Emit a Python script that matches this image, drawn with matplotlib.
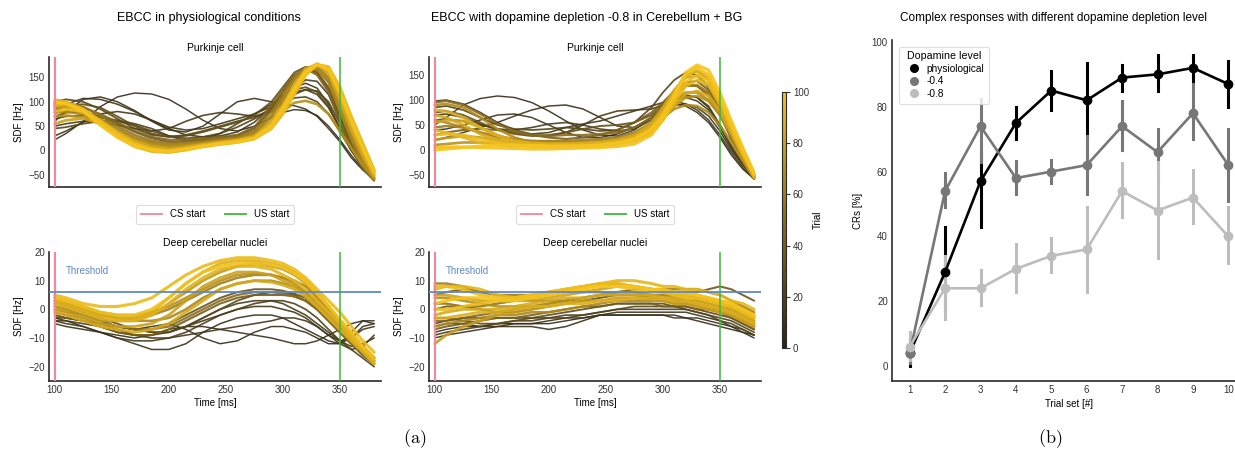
import matplotlib
matplotlib.use("Agg")
import matplotlib.pyplot as plt
from matplotlib.colors import LinearSegmentedColormap, Normalize
from matplotlib.cm import ScalarMappable
from matplotlib.lines import Line2D

plt.rcParams['font.family'] = ['Liberation Sans', 'DejaVu Sans']
plt.rcParams['mathtext.fontset'] = 'cm'

# time grid (ms) shared by all spike density traces
time_ms = [100, 110, 125, 140, 155, 170, 185, 200, 215, 230, 245, 260,
           275, 290, 300, 310, 320, 330, 340, 350, 360, 370, 380]

# Purkinje cell, physiological: trial index and SDF [Hz]
pc_phys_trials = [2, 6, 10, 12, 14, 18, 22, 25, 28, 35, 45, 55, 60, 65, 70, 78, 80,
                  84, 88, 90, 95, 97, 100]
pc_phys_sdf = [
    [22, 35, 60, 90, 110, 118, 116, 105, 85, 62, 45, 40, 50, 68, 78, 84, 82, 72, 50, 22, -10, -38, -55],
    [60, 80, 105, 110, 100, 82, 60, 42, 38, 50, 75, 100, 107, 100, 95, 92, 85, 70, 45, 18, -15, -40, -58],
    [75, 95, 107, 105, 95, 80, 62, 45, 32, 28, 30, 38, 58, 90, 112, 130, 138, 128, 95, 45, 0, -32, -55],
    [30, 40, 58, 75, 80, 75, 62, 48, 42, 45, 55, 65, 75, 90, 105, 120, 125, 115, 88, 45, 2, -32, -55],
    [50, 55, 60, 58, 52, 45, 40, 45, 60, 72, 78, 75, 70, 80, 95, 108, 110, 100, 75, 38, 0, -30, -52],
    [65, 70, 72, 68, 62, 55, 45, 30, 20, 22, 35, 55, 75, 95, 112, 130, 145, 142, 115, 60, 10, -28, -52],
    [45, 48, 55, 60, 60, 52, 40, 30, 25, 28, 35, 48, 65, 85, 100, 115, 125, 122, 100, 55, 8, -30, -55],
    [100, 105, 100, 85, 65, 45, 32, 28, 32, 40, 50, 60, 68, 85, 105, 125, 130, 120, 90, 45, 0, -35, -57],
    [85, 92, 95, 88, 70, 50, 35, 28, 30, 38, 48, 58, 72, 100, 130, 160, 172, 160, 125, 70, 15, -30, -58],
    [70, 78, 80, 70, 55, 38, 25, 18, 18, 22, 26, 30, 45, 85, 120, 152, 168, 160, 130, 70, 12, -35, -60],
    [88, 92, 88, 75, 58, 40, 28, 22, 22, 25, 28, 32, 48, 92, 125, 155, 168, 155, 120, 60, 5, -38, -62],
    [95, 98, 90, 72, 50, 32, 20, 15, 17, 20, 24, 28, 40, 80, 115, 150, 170, 165, 140, 80, 20, -30, -60],
    [85, 88, 82, 65, 45, 27, 16, 11, 13, 17, 21, 26, 36, 72, 108, 145, 170, 172, 150, 92, 32, -22, -58],
    [78, 80, 74, 58, 40, 24, 14, 10, 12, 15, 19, 24, 34, 68, 105, 145, 170, 170, 145, 85, 28, -20, -58],
    [70, 72, 68, 55, 38, 22, 12, 8, 10, 14, 18, 22, 30, 55, 80, 98, 102, 95, 75, 40, 5, -30, -58],
    [90, 88, 78, 58, 38, 20, 8, 4, 8, 13, 18, 22, 30, 60, 95, 135, 168, 176, 158, 100, 40, -12, -55],
    [55, 62, 66, 55, 38, 20, 8, 2, 4, 10, 15, 19, 26, 50, 85, 125, 160, 175, 166, 120, 60, 5, -45],
    [92, 94, 84, 62, 38, 18, 6, 2, 6, 12, 17, 21, 29, 57, 92, 132, 166, 177, 162, 108, 48, -6, -52],
    [104, 100, 85, 60, 33, 12, 3, 0, 5, 11, 16, 20, 28, 55, 90, 130, 165, 178, 165, 115, 55, 0, -50],
    [96, 95, 82, 55, 28, 8, -2, -4, 1, 8, 13, 17, 24, 45, 75, 115, 155, 176, 172, 130, 70, 15, -40],
    [80, 85, 80, 60, 35, 14, 3, -1, 3, 9, 14, 18, 25, 48, 80, 120, 158, 176, 170, 125, 65, 10, -42],
    [98, 96, 84, 58, 30, 10, 0, -3, 2, 8, 13, 17, 24, 47, 80, 120, 158, 177, 170, 124, 64, 8, -43],
    [100, 97, 80, 52, 27, 9, 1, -2, 3, 9, 14, 18, 25, 52, 88, 128, 162, 177, 166, 118, 60, 5, -45],
]

# Purkinje cell, dopamine depletion -0.8
pc_dep_trials = [3, 6, 8, 12, 15, 16, 22, 30, 40, 50, 58, 65, 68, 72, 75, 82, 85,
                 88, 92, 95, 98, 100]
pc_dep_sdf = [
    [50, 65, 90, 103, 108, 105, 95, 78, 58, 40, 30, 28, 40, 65, 80, 90, 92, 85, 68, 38, 0, -30, -55],
    [40, 42, 50, 60, 70, 72, 65, 50, 35, 25, 25, 32, 45, 65, 80, 92, 88, 75, 55, 25, -10, -38, -58],
    [20, 25, 35, 45, 55, 68, 80, 88, 90, 82, 65, 48, 45, 65, 85, 100, 105, 98, 80, 45, 5, -28, -55],
    [98, 100, 92, 75, 55, 40, 32, 35, 45, 52, 58, 68, 78, 88, 95, 98, 92, 80, 60, 30, -5, -35, -58],
    [70, 72, 65, 52, 42, 40, 45, 52, 55, 50, 42, 38, 42, 60, 80, 100, 110, 105, 85, 50, 8, -28, -56],
    [60, 62, 58, 50, 42, 35, 30, 28, 35, 50, 68, 78, 80, 82, 90, 100, 108, 105, 88, 50, 8, -28, -55],
    [85, 88, 80, 65, 50, 42, 40, 42, 45, 42, 38, 40, 55, 85, 115, 140, 155, 150, 125, 80, 25, -20, -55],
    [75, 78, 70, 55, 40, 32, 28, 30, 35, 42, 48, 50, 55, 70, 90, 115, 130, 128, 110, 70, 22, -20, -55],
    [30, 35, 40, 42, 40, 35, 30, 25, 22, 25, 30, 40, 55, 75, 95, 118, 135, 138, 120, 80, 30, -15, -55],
    [95, 98, 90, 72, 52, 38, 30, 28, 30, 30, 32, 35, 45, 65, 90, 115, 130, 128, 110, 72, 28, -15, -55],
    [45, 48, 45, 35, 25, 20, 18, 18, 18, 20, 22, 26, 35, 55, 80, 110, 128, 130, 115, 78, 30, -15, -55],
    [60, 55, 45, 35, 28, 22, 18, 16, 15, 16, 18, 22, 30, 50, 75, 100, 115, 115, 100, 70, 28, -15, -55],
    [90, 92, 85, 65, 42, 25, 15, 12, 12, 14, 16, 20, 28, 45, 65, 82, 90, 88, 75, 50, 15, -22, -58],
    [10, 12, 15, 15, 13, 12, 11, 11, 12, 13, 15, 18, 25, 42, 62, 88, 105, 108, 98, 70, 30, -15, -55],
    [20, 24, 28, 25, 18, 12, 10, 10, 10, 11, 13, 16, 24, 45, 75, 115, 150, 158, 140, 95, 40, -8, -55],
    [55, 60, 58, 45, 30, 18, 12, 10, 10, 12, 15, 20, 30, 55, 85, 120, 145, 148, 130, 88, 35, -12, -55],
    [70, 65, 50, 32, 20, 14, 12, 12, 12, 13, 14, 16, 22, 40, 62, 90, 112, 118, 108, 78, 35, -10, -52],
    [80, 78, 65, 45, 28, 18, 14, 12, 12, 13, 15, 18, 26, 48, 78, 115, 148, 158, 145, 100, 45, -5, -52],
    [40, 35, 25, 15, 10, 8, 8, 8, 8, 9, 10, 12, 18, 35, 60, 95, 128, 140, 130, 95, 45, -5, -50],
    [30, 32, 30, 22, 15, 10, 8, 7, 7, 8, 10, 13, 20, 38, 65, 100, 135, 150, 140, 100, 45, -5, -50],
    [5, 6, 6, 5, 4, 3, 2, 2, 3, 4, 5, 7, 12, 30, 60, 105, 150, 165, 150, 105, 50, 0, -50],
    [0, 2, 5, 8, 10, 10, 9, 8, 8, 8, 10, 14, 22, 42, 70, 110, 155, 170, 160, 115, 58, 5, -45],
]

# Deep cerebellar nuclei, physiological
dcn_phys_trials = [3, 5, 7, 9, 12, 15, 18, 24, 30, 40, 50, 60, 65, 70, 75, 80, 85,
                   88, 90, 95, 98]
dcn_phys_sdf = [
    [-2, -3, -4, -5, -6, -7, -6, -5, -7, -10, -12, -11, -8, -6, -6, -7, -8, -10, -12, -12, -8, -4, -4],
    [-3, -4, -6, -8, -9, -10, -9, -7, -6, -6, -7, -8, -9, -10, -11, -12, -12, -11, -9, -7, -5, -4, -5],
    [-5, -6, -7, -8, -10, -12, -14, -14, -12, -8, -5, -3, -2, -2, -3, -5, -7, -9, -11, -12, -10, -6, -5],
    [-4, -5, -6, -8, -10, -11, -11, -10, -9, -8, -7, -6, -5, -4, -3, -3, -4, -6, -9, -11, -10, -7, -6],
    [-3, -3, -4, -5, -6, -7, -8, -8, -6, -4, -2, 0, 1, 1, 0, -1, -3, -6, -9, -12, -14, -13, -9],
    [-4, -4, -5, -6, -8, -9, -9, -8, -6, -3, 0, 2, 3, 3, 2, 0, -2, -5, -8, -11, -13, -12, -10],
    [-1, -2, -3, -5, -7, -9, -10, -10, -8, -5, -2, 0, 2, 3, 3, 2, 0, -3, -7, -11, -14, -17, -20],
    [2, 1, -1, -3, -5, -7, -8, -8, -6, -3, 0, 3, 5, 6, 6, 5, 3, 0, -4, -8, -12, -16, -19],
    [0, -1, -2, -4, -6, -7, -7, -5, -2, 1, 4, 6, 7, 7, 6.5, 5.5, 4, 1, -3, -7, -11, -15, -18],
    [-2, -3, -4, -6, -8, -9, -9, -7, -4, -1, 2, 4, 5, 5, 5, 4.5, 3, 0, -4, -8, -12, -16, -19],
    [1, 0, -2, -4, -6, -7, -7, -6, -3, 0, 3, 5, 6, 6, 5.5, 4.5, 3, 0, -4, -8, -12, -15, -18],
    [3, 2, 0, -2, -3, -3, -2, 0, 3, 6, 9, 11, 12, 12, 11, 10, 8, 4, 0, -4, -8, -13, -17],
    [2, 2, 0, -2, -3, -4, -4, -3, 0, 4, 7, 9, 10, 10, 9, 8, 6, 3, -1, -5, -9, -13, -17],
    [4, 3, 1, -1, -2, -2, -1, 1, 4, 7, 10, 12, 12.5, 12, 11, 9, 6, 2, -2, -6, -10, -14, -17],
    [1, 0, -2, -4, -4, -4, -2, 2, 6, 10, 13, 15, 16, 15, 14, 12, 9, 5, 1, -4, -9, -13, -17],
    [0, -1, -3, -5, -6, -6, -5, -2, 3, 8, 11, 13, 13, 12, 10, 8, 5, 1, -3, -7, -11, -15, -19],
    [-1, -2, -4, -6, -7, -8, -7, -5, -1, 3, 7, 9, 10, 9.5, 8.5, 7, 4.5, 1, -3, -7, -11, -15, -19],
    [3, 2, 0, -2, -3, -3, -1, 4, 9, 13, 16, 17, 17, 16, 15, 13, 10, 6, 1, -4, -9, -14, -18],
    [2, 1, -1, -3, -4, -4, -2, 2, 7, 11, 14, 15, 15, 14, 12, 10, 7, 3, -1, -5, -10, -14, -18],
    [5, 4, 2, 1, 1, 2, 4, 8, 12, 15, 17, 18, 18, 17, 16, 14, 11, 7, 3, -1, -6, -11, -15],
    [4, 3, 1, -1, -2, -2, 0, 4, 9, 13, 15, 16, 16, 15.5, 14.5, 12.5, 9.5, 5.5, 1, -3.5, -8, -13, -17],
]

# Deep cerebellar nuclei, dopamine depletion -0.8
dcn_dep_trials = [2, 5, 8, 14, 20, 26, 30, 35, 40, 45, 52, 60, 65, 70, 78, 82, 85,
                  88, 92, 95, 97, 100]
dcn_dep_sdf = [
    [-8, -7, -6, -6, -5, -5, -5, -5, -4, -3, -2, -2, -2, -2, -2, -3, -3, -3, -4, -5, -6, -8, -10],
    [-10, -9, -8, -7, -6, -5, -5, -4, -3, -3, -2, -2, -2, -2, -2, -2, -3, -4, -5, -6, -7, -8, -9],
    [-6, -5, -5, -6, -6, -6, -6, -7, -6, -4, -2, -1, -1, -1, -1, -1, -1, -2, -3, -4, -6, -7, -9],
    [-5, -4, -3, -3, -3, -3, -3, -3, -2, -2, -1, 0, 0, 0, 0, 0, 0, -1, -2, -3, -4, -6, -8],
    [-9, -8, -7, -6, -5, -4, -4, -3, -3, -2, -1, 0, 1, 1, 1, 1, 0, -1, -2, -4, -5, -7, -9],
    [-3, -3, -4, -5, -5, -4, -3, -2, -1, 0, 1, 2, 2, 2, 2, 1, 1, 0, -1, -2, -3, -5, -7],
    [0, 1, 1, 0, -1, -1, 0, 1, 2, 3, 4, 5, 5, 4, 4, 3, 3, 2, 1, 0, -1, -3, -5],
    [5, 6, 7, 6, 5, 4, 3, 3, 3, 4, 5, 6, 7, 7, 6, 6, 6, 6, 7, 8, 7, 5, 3],
    [-7, -6, -5, -4, -3, -3, -2, -1, 0, 1, 1, 2, 2, 2, 1, 1, 1, 0, 0, -1, -3, -5, -7],
    [-4, -4, -3, -2, -1, 0, 1, 2, 3, 4, 5, 5, 5, 4, 4, 4, 3, 3, 2, 1, 0, -2, -4],
    [2, 2, 1, 1, 2, 3, 4, 5, 6, 6, 6, 6, 6, 5, 5, 5, 5, 4, 4, 3, 2, 0, -2],
    [9, 9, 8, 6, 5, 5, 5, 6, 7, 8, 9, 9, 8, 7, 7, 7, 7, 7, 6, 5, 3, 1, -1],
    [-6, -5, -4, -3, -2, -2, -1, -1, 0, 1, 2, 3, 3, 3, 3, 2, 2, 1, 0, -1, -2, -4, -6],
    [4, 4, 3, 2, 1, 1, 1, 2, 3, 4, 5, 6, 6, 5, 5, 4, 3, 2, 1, 0, -1, -3, -5],
    [-12, -9, -6, -4, -2, -1, 0, 1, 2, 3, 3, 4, 4, 3, 3, 2, 2, 1, 0, -1, -2, -4, -6],
    [5, 5, 4, 3, 3, 3, 3, 4, 5, 6, 7, 8, 8, 7, 6, 5, 5, 4, 3, 2, 1, -1, -3],
    [-2, -1, 0, 0, 0, 1, 2, 3, 4, 4, 5, 5, 5, 5, 4, 4, 4, 3, 2, 1, 0, -2, -4],
    [-3, -3, -2, -1, -1, 0, 1, 1, 2, 2, 3, 3, 4, 4, 4, 3, 3, 2, 1, 0, -1, -3, -5],
    [7, 8, 8, 7, 5, 4, 4, 5, 6, 7, 9, 10, 10, 9, 8, 8, 7, 7, 6, 5, 3, 2, 0],
    [0, 0, 1, 2, 3, 4, 5, 6, 7, 8, 9, 9, 8, 7, 6, 5, 4, 4, 3, 2, 1, -1, -3],
    [8, 8, 7, 5, 4, 4, 5, 6, 7, 8, 8, 8, 7, 7, 6, 6, 5, 5, 4, 3, 2, 0, -2],
    [2, 3, 4, 4, 3, 3, 4, 5, 6, 7, 8, 8, 8, 7, 7, 6, 6, 5, 4, 3, 2, 0, -2],
]

cs_start = 100
us_start = 350
threshold = 6

# CR percentages per trial set (mean, lower CI, upper CI)
trial_sets = [1, 2, 3, 4, 5, 6, 7, 8, 9, 10]
dopamine_levels = ['physiological', '-0.4', '-0.8']
cr_mean = [
    [4, 29, 57, 75, 85, 82, 89, 90, 92, 87],
    [4, 54, 74, 58, 60, 62, 74, 66, 78, 62],
    [6, 24, 24, 30, 34, 36, 54, 48, 52, 40],
]
cr_low = [
    [0, 17, 43, 70, 79, 71, 85, 85, 88, 80],
    [1, 49, 63, 53, 56.5, 53, 66.7, 58, 70, 51],
    [2, 14.5, 19, 23, 29, 23, 46, 33.5, 44, 31.7],
]
cr_high = [
    [8, 43, 66, 80, 91, 93.5, 93, 96, 96, 94],
    [8, 59.5, 82.4, 63.3, 63.6, 71, 81.8, 73, 87, 73],
    [10.5, 34, 29.6, 37.6, 39.5, 49, 62.6, 63, 60.5, 49],
]
level_colors = ['#000000', '#777777', '#bdbdbd']

W, H = 1235, 451
fig = plt.figure(figsize=(W / 100, H / 100), dpi=100)

cmap = LinearSegmentedColormap.from_list('trial', ['#2b2616', '#8a6c1c', '#f6c41c'])
norm = Normalize(0, 100)
spine_col = '#2a2a2a'
cs_col = '#f0879a'
us_col = '#3cb83a'
thr_col = '#5f88c8'


def px_axes(x0, y0, x1, y1):
    return fig.add_axes([x0 / W, 1 - y1 / H, (x1 - x0) / W, (y1 - y0) / H])


def style(ax):
    for s in ['top', 'right']:
        ax.spines[s].set_visible(False)
    for s in ['left', 'bottom']:
        ax.spines[s].set_color(spine_col)
        ax.spines[s].set_linewidth(1.2)
    ax.tick_params(length=0, labelsize=7, pad=3, colors='#333333')


def traces(ax, trials, sdf, title, ylim, yticks, bottom):
    order = sorted(range(len(trials)), key=lambda i: trials[i])
    for i in order:
        tr = trials[i]
        ax.plot(time_ms, sdf[i], color=cmap(norm(tr)), lw=1.0 + 1.3 * tr / 100,
                alpha=0.9, solid_capstyle='round', solid_joinstyle='round', zorder=2)
    ax.axvline(cs_start, color=cs_col, lw=1.5, zorder=3)
    ax.axvline(us_start, color=us_col, lw=1.1, zorder=3)
    ax.set_xlim(95, 386)
    ax.set_ylim(*ylim)
    ax.set_yticks(yticks)
    ax.set_ylabel('SDF [Hz]', fontsize=7, labelpad=3)
    ax.set_title(title, fontsize=7.5, pad=4)
    style(ax)
    if bottom:
        ax.axhline(threshold, color=thr_col, lw=1.3, zorder=4)
        ax.text(110, 13.5, 'Threshold', color=thr_col, fontsize=7, va='center')
        ax.set_xticks([100, 150, 200, 250, 300, 350])
        ax.set_xlabel('Time [ms]', fontsize=7, labelpad=2)
    else:
        ax.set_xticks([])
        handles = [Line2D([], [], color=cs_col, lw=1.3), Line2D([], [], color=us_col, lw=1.3)]
        leg = ax.legend(handles, ['CS start', 'US start'], loc='upper center',
                        bbox_to_anchor=(0.5, -0.1), ncol=2, fontsize=7, frameon=True,
                        handlelength=2.2, columnspacing=2.0, borderpad=0.45)
        leg.get_frame().set_edgecolor('#d5d5d5')
        leg.get_frame().set_linewidth(0.8)


ax1 = px_axes(49, 57, 381, 187)
traces(ax1, pc_phys_trials, pc_phys_sdf, 'Purkinje cell', (-75, 192), [-50, 0, 50, 100, 150], False)
ax2 = px_axes(49, 252, 381, 381)
traces(ax2, dcn_phys_trials, dcn_phys_sdf, 'Deep cerebellar nuclei', (-25, 20), [-20, -10, 0, 10, 20], True)
ax3 = px_axes(429, 57, 761, 187)
traces(ax3, pc_dep_trials, pc_dep_sdf, 'Purkinje cell', (-74, 186), [-50, 0, 50, 100, 150], False)
ax4 = px_axes(429, 252, 761, 381)
traces(ax4, dcn_dep_trials, dcn_dep_sdf, 'Deep cerebellar nuclei', (-25, 20), [-20, -10, 0, 10, 20], True)

fig.text(209 / W, 1 - 18 / H, 'EBCC in physiological conditions', ha='center', va='center', fontsize=9)
fig.text(587 / W, 1 - 18 / H, 'EBCC with dopamine depletion -0.8 in Cerebellum + BG',
         ha='center', va='center', fontsize=9)

# colorbar
cax = px_axes(782, 92, 786, 348)
cb = fig.colorbar(ScalarMappable(norm=norm, cmap=cmap), cax=cax)
cb.set_ticks([0, 20, 40, 60, 80, 100])
cb.ax.tick_params(labelsize=7, length=3, width=0.8, pad=2, colors='#333333')
cb.outline.set_edgecolor('#2a2a2a')
cb.outline.set_linewidth(0.8)
cb.set_label('Trial', fontsize=7, labelpad=3)

# CR panel
axr = px_axes(892, 40, 1246, 381)
xpos = list(range(len(trial_sets)))
for k, lvl in enumerate(dopamine_levels):
    col = level_colors[k]
    for j in xpos:
        axr.plot([j, j], [cr_low[k][j], cr_high[k][j]], color=col, lw=2.2, zorder=2 + k * 0.1)
    axr.plot(xpos, cr_mean[k], color=col, lw=1.9, marker='o', markersize=6,
             label=lvl, zorder=3 + k * 0.1)
axr.set_xlim(-0.5, 9.5)
axr.set_ylim(-4.6, 100.6)
axr.set_xticks(xpos)
axr.set_xticklabels([str(t) for t in trial_sets])
axr.set_yticks([0, 20, 40, 60, 80, 100])
axr.set_xlabel('Trial set [#]', fontsize=7, labelpad=3)
axr.set_ylabel('CRs [%]', fontsize=7, labelpad=6)
style(axr)
lh = [Line2D([], [], color=c, marker='o', ls='', markersize=5.5) for c in level_colors]
leg = axr.legend(lh, dopamine_levels, title='Dopamine level', loc='upper left',
                 bbox_to_anchor=(0.005, 0.995), fontsize=7.3, title_fontsize=7.7,
                 frameon=True, handletextpad=0.3, borderpad=0.45, labelspacing=0.25)
leg.get_frame().set_edgecolor('#d5d5d5')
leg.get_frame().set_linewidth(0.8)
fig.text(1053 / W, 1 - 18 / H, 'Complex responses with different dopamine depletion level',
         ha='center', va='center', fontsize=8.5)

fig.text(415 / W, 1 - 439 / H, r'$\mathrm{(a)}$', ha='center', va='center', fontsize=13)
fig.text(1050 / W, 1 - 439 / H, r'$\mathrm{(b)}$', ha='center', va='center', fontsize=13)

fig.savefig('out.png', dpi=100, facecolor='white')
